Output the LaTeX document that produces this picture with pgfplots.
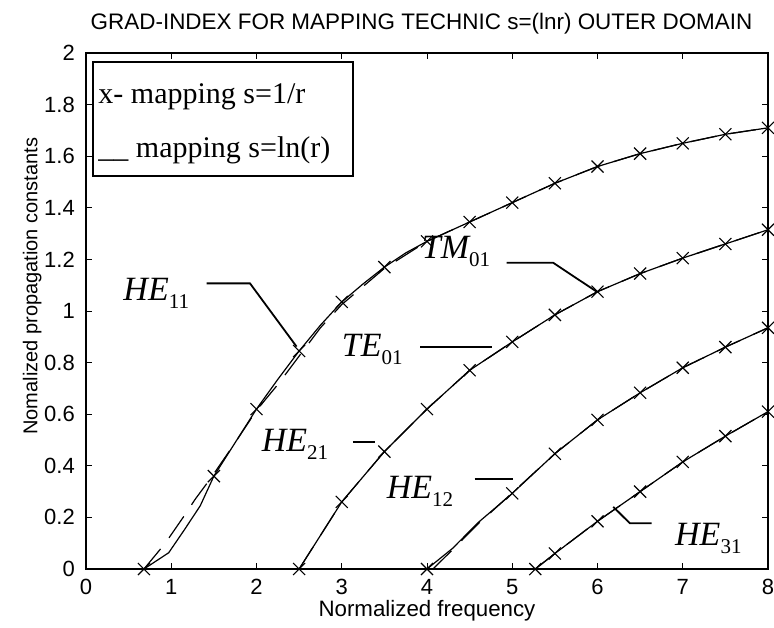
\documentclass[border=0pt]{standalone}
\usepackage{fontspec}
\setmainfont{Liberation Serif}
\newfontfamily\arial{Liberation Sans}
\usepackage{pgfplots}
\pgfplotsset{compat=1.18}
\usepackage{pgfplotstable}

\newcommand\mode[2]{{\fontsize{34bp}{34bp}\selectfont\itshape #1}\raisebox{-8bp}{\fontsize{21bp}{21bp}\selectfont #2}}

% mapping s=1/r (solid lines)
\pgfplotstableread{
x y
0.68 0
0.97 0.063
1.15 0.15
1.34 0.245
1.5 0.36
1.75 0.49
2 0.62
2.25 0.735
2.5 0.845
2.75 0.945
3 1.035
3.25 1.105
3.5 1.17
3.75 1.225
4 1.27
4.5 1.345
5 1.42
5.5 1.495
6 1.56
6.5 1.61
7 1.65
7.5 1.685
8 1.71
}\heOneOneS
\pgfplotstableread{
x y
0.68 0
1.5 0.36
2 0.62
2.5 0.845
3 1.035
3.5 1.17
4 1.27
4.5 1.345
5 1.42
5.5 1.495
6 1.56
6.5 1.61
7 1.65
7.5 1.685
8 1.71
}\heOneOneM
% mapping s=ln(r) (dashed)
\pgfplotstableread{
x y
0.68 0
0.93 0.10
1.16 0.21
1.28 0.27
1.47 0.355
1.75 0.49
2 0.615
2.25 0.715
2.5 0.825
2.75 0.935
3 1.025
3.5 1.165
4 1.27
4.5 1.345
5 1.42
5.5 1.495
6 1.56
6.5 1.61
7 1.65
7.5 1.685
8 1.71
}\heOneOneD
\pgfplotstableread{
x y
2.5 0
3 0.26
3.5 0.455
4 0.62
4.5 0.77
5 0.88
5.5 0.985
6 1.075
6.5 1.145
7 1.205
7.5 1.26
8 1.315
}\teS
\pgfplotstableread{
x y
4 0
4.3 0.08
4.6 0.18
5 0.293
5.5 0.447
6 0.578
6.5 0.683
7 0.78
7.5 0.86
8 0.935
}\heOneTwoS
\pgfplotstableread{
x y
4 0
5 0.293
5.5 0.447
6 0.578
6.5 0.683
7 0.78
7.5 0.86
8 0.935
}\heOneTwoM
\pgfplotstableread{
x y
4.07 0
4.3 0.075
4.6 0.175
5 0.295
5.5 0.447
6 0.578
6.5 0.683
7 0.78
7.5 0.86
8 0.935
}\heOneTwoD
\pgfplotstableread{
x y
5.27 0
5.5 0.06
6 0.185
6.5 0.30
7 0.415
7.5 0.515
8 0.61
}\heThreeOne

\begin{document}
\begin{tikzpicture}
\begin{axis}[
  scale only axis, width=682bp, height=516bp,
  xmin=0, xmax=8, ymin=0, ymax=2,
  xtick={0,1,2,3,4,5,6,7,8},
  ytick={0,0.2,0.4,0.6,0.8,1,1.2,1.4,1.6,1.8,2},
  major tick length=6bp,
  tick style={black, line width=0.9bp},
  axis line style={line width=1.3bp},
  /pgf/number format/assume math mode=true,
  ticklabel style={font=\arial\fontsize{22bp}{26bp}\selectfont},
  xticklabel style={anchor=north, inner sep=0pt, yshift=-10bp},
  yticklabel style={anchor=east, inner sep=0pt, xshift=-11bp},
  clip=false,
]
% dashed: mapping s=ln(r)
\addplot[black, line width=1.2bp, dash pattern=on 26bp off 14bp] table {\heOneOneD};
\addplot[black, line width=1.2bp, dash pattern=on 26bp off 14bp] table {\teS};
\addplot[black, line width=1.2bp, dash pattern=on 26bp off 14bp] table {\heOneTwoD};
\addplot[black, line width=1.2bp, dash pattern=on 26bp off 14bp] table {\heThreeOne};
% solid: mapping s=1/r
\addplot[black, line width=1.2bp] table {\heOneOneS};
\addplot[black, line width=1.2bp] table {\teS};
\addplot[black, line width=1.2bp] table {\heOneTwoS};
\addplot[black, line width=1.2bp] table {\heThreeOne};
% x markers
\addplot[black, only marks, mark=x, mark size=8.5bp, line width=1.1bp] table {\heOneOneM};
\addplot[black, only marks, mark=x, mark size=8.5bp, line width=1.1bp] table {\teS};
\addplot[black, only marks, mark=x, mark size=8.5bp, line width=1.1bp] table {\heOneTwoM};
\addplot[black, only marks, mark=x, mark size=8.5bp, line width=1.1bp] table {\heThreeOne};

% leader lines
\draw[line width=1.8bp] (axis cs:1.416,1.107) -- (axis cs:1.924,1.107) -- (axis cs:2.47,0.862);
\draw[line width=1.8bp] (axis cs:4.935,1.187) -- (axis cs:5.48,1.187) -- (axis cs:5.99,1.075);
\draw[line width=1.8bp] (axis cs:3.92,0.862) -- (axis cs:4.76,0.862);
\draw[line width=1.8bp] (axis cs:3.13,0.493) -- (axis cs:3.39,0.493);
\draw[line width=1.8bp] (axis cs:4.56,0.349) -- (axis cs:5.01,0.349);
\draw[line width=1.8bp] (axis cs:6.185,0.241) -- (axis cs:6.38,0.177) -- (axis cs:6.636,0.177);

% mode labels
\node[anchor=base west, inner sep=0pt] at (axis cs:0.4375,1.040) {\mode{HE}{11}};
\node[anchor=base west, inner sep=0pt] at (axis cs:3.938,1.204) {\mode{TM}{01}};
\node[anchor=base west, inner sep=0pt] at (axis cs:3.0,0.822) {\mode{TE}{01}};
\node[anchor=base west, inner sep=0pt] at (axis cs:2.061,0.455) {\mode{HE}{21}};
\node[anchor=base west, inner sep=0pt] at (axis cs:3.527,0.274) {\mode{HE}{12}};
\node[anchor=base west, inner sep=0pt] at (axis cs:6.909,0.093) {\mode{HE}{31}};

% legend box
\draw[line width=1.8bp, fill=white] (rel axis cs:0.0107,0.983) rectangle (rel axis cs:0.392,0.762);
\node[anchor=base west, inner sep=0pt, font=\fontsize{30bp}{30bp}\selectfont] at (rel axis cs:0.018,0.903) {x- mapping s=1/r};
\node[anchor=base west, inner sep=0pt, font=\fontsize{30bp}{30bp}\selectfont] at (rel axis cs:0.018,0.798) {\_\_ mapping s=ln(r)};

% title and axis labels
\node[anchor=base, inner sep=0pt, font=\arial\fontsize{22.45bp}{26bp}\selectfont] at (rel axis cs:0.492,1.0446) {GRAD-INDEX FOR MAPPING TECHNIC s=(lnr) OUTER DOMAIN};
\node[anchor=base, inner sep=0pt, font=\arial\fontsize{22.3bp}{26bp}\selectfont] at (rel axis cs:0.5,-0.0911) {Normalized frequency};
\node[rotate=90, anchor=center, inner sep=0pt, font=\arial\fontsize{20bp}{24bp}\selectfont] at (rel axis cs:-0.079,0.548) {Nomalized propagation constants};
\end{axis}
\pgfresetboundingbox
\path ([shift={(-86bp,-58bp)}]current axis.south west) rectangle ([shift={(6bp,53bp)}]current axis.north east);
\end{tikzpicture}
\end{document}
